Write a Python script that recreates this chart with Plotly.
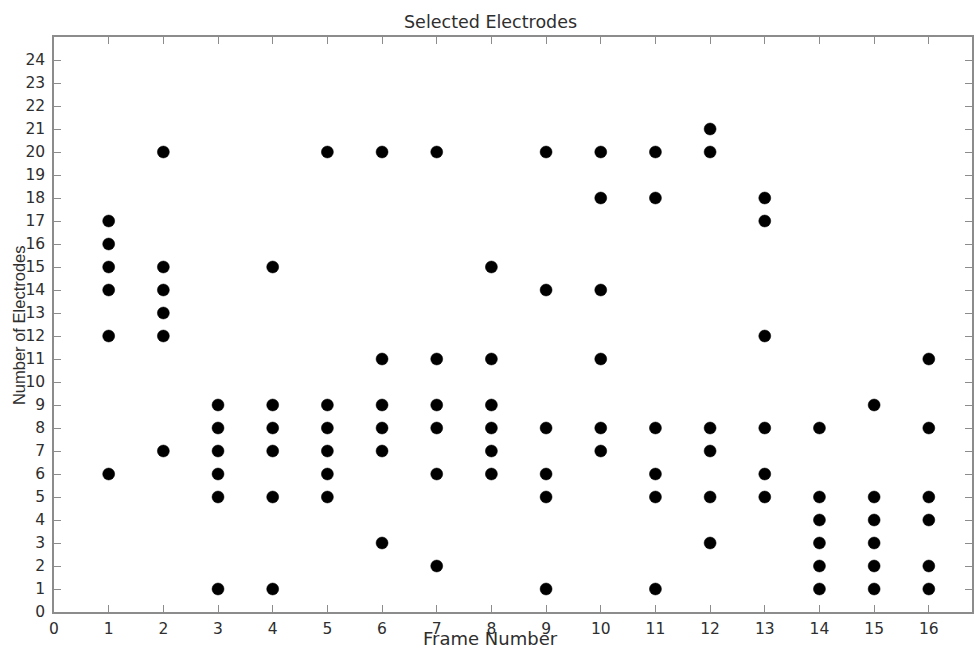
import plotly.graph_objects as go

# Selected electrodes per frame (frame number -> electrode indices)
frames = list(range(1, 17))
electrodes = [
    [17, 16, 15, 14, 12, 6],
    [20, 15, 14, 13, 12, 7],
    [9, 8, 7, 6, 5, 1],
    [15, 9, 8, 7, 5, 1],
    [20, 9, 8, 7, 6, 5],
    [20, 11, 9, 8, 7, 3],
    [20, 11, 9, 8, 6, 2],
    [15, 11, 9, 8, 7, 6],
    [20, 14, 8, 6, 5, 1],
    [20, 18, 14, 11, 8, 7],
    [20, 18, 8, 6, 5, 1],
    [21, 20, 8, 7, 5, 3],
    [18, 17, 12, 8, 6, 5],
    [8, 5, 4, 3, 2, 1],
    [9, 5, 4, 3, 2, 1],
    [11, 8, 5, 4, 2, 1],
]
x_ticks = list(range(0, 17))
y_ticks = list(range(0, 25))

xs, ys = [], []
for f, elist in zip(frames, electrodes):
    for e in elist:
        xs.append(f)
        ys.append(e)

fig = go.Figure()
fig.add_trace(go.Scatter(
    x=xs, y=ys, mode="markers",
    marker=dict(symbol="circle", size=12, color="black",
                line=dict(width=0.5, color="black")),
    showlegend=False, hoverinfo="x+y",
))

TXT = "#2e2e2e"
tick_font = dict(family="DejaVu Sans, Arial, sans-serif", size=15.5, color=TXT)
axis_common = dict(
    showgrid=False, zeroline=False,
    showline=True, linecolor="#8c8c8c", linewidth=1.5, mirror="ticks",
    ticks="inside", ticklen=7, tickwidth=1, tickcolor="#8c8c8c",
    tickfont=tick_font,
)

W, H = 975, 649
L, R, T, B = 54, 1, 37, 37
pw, ph = W - L - R, H - T - B

fig.update_layout(
    width=W, height=H,
    margin=dict(l=L, r=R, t=T, b=B),
    paper_bgcolor="white", plot_bgcolor="white",
    xaxis=dict(range=[0, 16.79], tickvals=x_ticks, ticklabelstandoff=2, **axis_common),
    yaxis=dict(range=[0, 25], tickvals=y_ticks, ticklabelstandoff=4, **axis_common),
)


def px_ann(text, px, py, size, family, angle=0):
    # place a text label at page-pixel position (px, py)
    fig.add_annotation(
        text=text, xref="paper", yref="paper",
        x=(px - L) / pw, y=1 - (py - T) / ph,
        xanchor="center", yanchor="middle", showarrow=False, textangle=angle,
        font=dict(family=family, size=size, color=TXT),
    )


px_ann("Selected Electrodes", 491, 22, 17.5, "DejaVu Sans, Arial, sans-serif")
px_ann("Frame Number", 491, 638, 18, "DejaVu Sans, Arial, sans-serif")
px_ann("Number of Electrodes", 19, 325, 16.5, "Liberation Sans, Arial, sans-serif", angle=-90)

fig.write_html("out.html")
